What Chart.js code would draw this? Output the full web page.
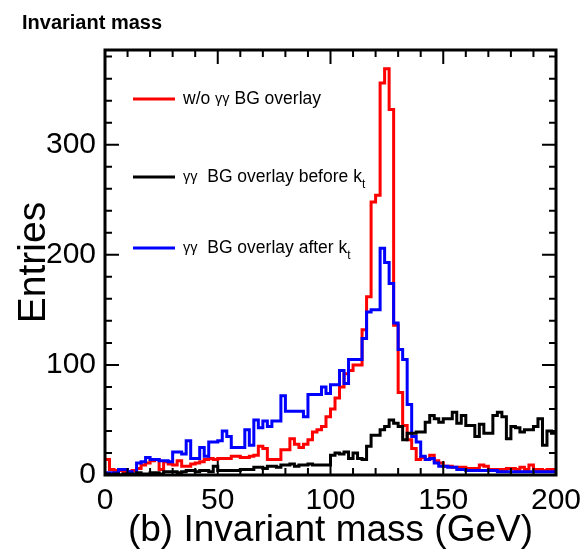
<!DOCTYPE html>
<html>
<head>
<meta charset="utf-8">
<script src="https://cdn.jsdelivr.net/npm/chart.js@4.4.0/dist/chart.umd.min.js"></script>
<style>
  html, body { margin: 0; padding: 0; background: #fff; }
</style>
</head>
<body>
<canvas id="chartMass" width="582" height="555"></canvas>
<script>
// histogram bins: 2 GeV wide, 0 - 200 GeV
var binWidth = 2;
var xTicks = [0, 50, 100, 150, 200];
var yTicks = [0, 100, 200, 300];
var xMinor = 10;
var yMinor = 20;

// w/o gamma gamma BG overlay
var noOverlay = [
  14, 5, 4, 4, 3, 3, 4, 6, 9, 11,
  13, 14, 5, 12, 10, 9, 13, 8, 8, 10,
  11, 12, 14, 15, 14, 15, 15, 15, 17, 17,
  16, 16, 17, 18, 26, 24, 14, 14, 14, 23,
  23, 33, 28, 25, 28, 32, 39, 41, 44, 53,
  60, 70, 80, 92, 95, 100, 100, 132, 162, 248,
  254, 356, 369, 332, 136, 75, 45, 32, 24, 14,
  16, 14, 18, 13, 11, 8, 8, 7, 7, 7,
  6, 6, 6, 9, 8, 5, 5, 5, 5, 6,
  6, 5, 7, 5, 9, 5, 5, 4, 5, 5
];

// gamma gamma BG overlay, before kt
var overlayBefore = [
  1, 0, 1, 0, 1, 1, 1, 2, 1, 1,
  2, 2, 1, 3, 3, 3, 2, 3, 4, 4,
  3, 4, 4, 3, 8, 4, 4, 4, 4, 4,
  5, 5, 5, 7, 7, 6, 8, 8, 7, 9,
  9, 10, 8, 9, 9, 10, 9, 9, 9, 9,
  18, 20, 19, 21, 15, 20, 15, 14, 26, 36,
  36, 41, 44, 50, 47, 44, 32, 38, 38, 39,
  39, 48, 54, 51, 48, 51, 51, 57, 47, 54,
  45, 45, 35, 46, 38, 38, 54, 57, 53, 33,
  44, 43, 39, 41, 41, 44, 51, 27, 40, 38
];

// gamma gamma BG overlay, after kt
var overlayAfter = [
  2, 2, 2, 5, 5, 3, 1, 11, 12, 16,
  14, 14, 13, 13, 12, 21, 21, 19, 31, 15,
  15, 25, 17, 30, 30, 31, 40, 35, 25, 25,
  25, 41, 27, 50, 43, 49, 44, 49, 49, 72,
  58, 58, 58, 58, 53, 73, 73, 73, 80, 74,
  82, 82, 95, 83, 105, 105, 105, 124, 148, 150,
  150, 206, 193, 174, 138, 114, 105, 64, 35, 30,
  17, 14, 15, 11, 8, 8, 7, 7, 5, 5,
  4, 4, 4, 4, 4, 4, 4, 3, 3, 3,
  3, 3, 3, 3, 3, 3, 3, 3, 3, 3
];

// left bin edges, plus one closing point at the upper edge
function histPoints(counts) {
  var pts = counts.map(function (v, i) { return { x: i * binWidth, y: v }; });
  pts.push({ x: counts.length * binWidth, y: counts[counts.length - 1] });
  return pts;
}

function histDataset(counts, color) {
  return {
    data: histPoints(counts),
    borderColor: color,
    borderWidth: 3,
    stepped: true,
    pointRadius: 0,
    fill: false,
    tension: 0
  };
}

var FONT = '"Liberation Sans", Helvetica, Arial, sans-serif';

// frame with inward ticks on all four sides, legend and page title
var framePlugin = {
  id: 'frame',
  afterDatasetsDraw: function (chart) {
    var ctx = chart.ctx;
    var a = chart.chartArea;
    var xs = chart.scales.x;
    var ys = chart.scales.y;
    var v, p, len;

    ctx.save();
    ctx.strokeStyle = '#000';
    ctx.lineCap = 'butt';
    ctx.lineWidth = 2;
    ctx.beginPath();
    for (v = xs.min; v <= xs.max; v += xMinor) {
      p = xs.getPixelForValue(v);
      len = xTicks.indexOf(v) >= 0 ? 14 : 7;
      ctx.moveTo(p, a.bottom); ctx.lineTo(p, a.bottom - len);
      ctx.moveTo(p, a.top); ctx.lineTo(p, a.top + len);
    }
    for (v = 0; v <= ys.max; v += yMinor) {
      p = ys.getPixelForValue(v);
      len = yTicks.indexOf(v) >= 0 ? 14 : 7;
      ctx.moveTo(a.left, p); ctx.lineTo(a.left + len, p);
      ctx.moveTo(a.right, p); ctx.lineTo(a.right - len, p);
    }
    ctx.stroke();

    ctx.lineWidth = 3;
    ctx.strokeRect(a.left, a.top, a.right - a.left, a.bottom - a.top);
    ctx.restore();

    drawLegend(ctx);

    ctx.save();
    ctx.fillStyle = '#000';
    ctx.font = 'bold 20px ' + FONT;
    ctx.textBaseline = 'alphabetic';
    ctx.fillText('Invariant mass', 22, 29);
    ctx.restore();
  }
};

function drawRun(ctx, x, y, parts) {
  parts.forEach(function (part) {
    ctx.font = part.size + 'px ' + FONT;
    ctx.fillText(part.text, x, y + (part.dy || 0));
    x += ctx.measureText(part.text).width;
  });
}

function drawLegend(ctx) {
  var entries = [
    { color: '#ff0000', y: 99, parts: [
      { text: 'w/o ', size: 17.5 }, { text: 'γγ', size: 14.5 }, { text: ' BG overlay', size: 17.5 }] },
    { color: '#000000', y: 177, parts: [
      { text: 'γγ', size: 14.5 }, { text: '  BG overlay before k', size: 17.5 }, { text: 't', size: 12, dy: 8 }] },
    { color: '#0000ff', y: 248, parts: [
      { text: 'γγ', size: 14.5 }, { text: '  BG overlay after k', size: 17.5 }, { text: 't', size: 12, dy: 8 }] }
  ];
  ctx.save();
  entries.forEach(function (e) {
    ctx.strokeStyle = e.color;
    ctx.lineWidth = 3;
    ctx.beginPath();
    ctx.moveTo(133, e.y);
    ctx.lineTo(175, e.y);
    ctx.stroke();
    ctx.fillStyle = '#000';
    ctx.textBaseline = 'middle';
    drawRun(ctx, 183, e.y, e.parts);
  });
  ctx.restore();
}

const chartMass = document.getElementById('chartMass');

new Chart(chartMass, {
  type: 'line',
  data: {
    datasets: [
      histDataset(overlayBefore, '#000000'),
      histDataset(overlayAfter, '#0000ff'),
      histDataset(noOverlay, '#ff0000')
    ]
  },
  options: {
    responsive: false,
    animation: false,
    layout: { padding: { left: 0, top: 50, right: 26, bottom: 0 } },
    plugins: {
      legend: { display: false },
      tooltip: { enabled: false }
    },
    scales: {
      x: {
        type: 'linear',
        min: 0,
        max: 200,
        afterBuildTicks: function (scale) {
          scale.ticks = xTicks.map(function (v) { return { value: v }; });
        },
        afterFit: function (scale) {
          scale.height = 80;
          // let the last label run past the canvas edge
          scale.paddingLeft = 0;
          scale.paddingRight = 0;
        },
        grid: { display: false, drawTicks: false },
        border: { display: false },
        ticks: {
          color: '#000',
          padding: 8,
          maxRotation: 0,
          autoSkip: false,
          font: { family: FONT, size: 30 }
        },
        title: {
          display: true,
          text: '(b) Invariant mass (GeV)',
          color: '#000',
          font: { family: FONT, size: 37 },
          padding: { top: 0, bottom: 2 }
        }
      },
      y: {
        type: 'linear',
        min: 0,
        max: 386,
        afterBuildTicks: function (scale) {
          scale.ticks = yTicks.map(function (v) { return { value: v }; });
        },
        afterFit: function (scale) {
          scale.width = 105;
          scale.paddingTop = 0;
          scale.paddingBottom = 0;
        },
        grid: { display: false, drawTicks: false },
        border: { display: false },
        ticks: {
          color: '#000',
          padding: 9,
          autoSkip: false,
          font: { family: FONT, size: 30 }
        },
        title: {
          display: true,
          text: 'Entries',
          color: '#000',
          font: { family: FONT, size: 39 },
          padding: { top: 11, bottom: 0 }
        }
      }
    }
  },
  plugins: [framePlugin]
});
</script>
</body>
</html>
